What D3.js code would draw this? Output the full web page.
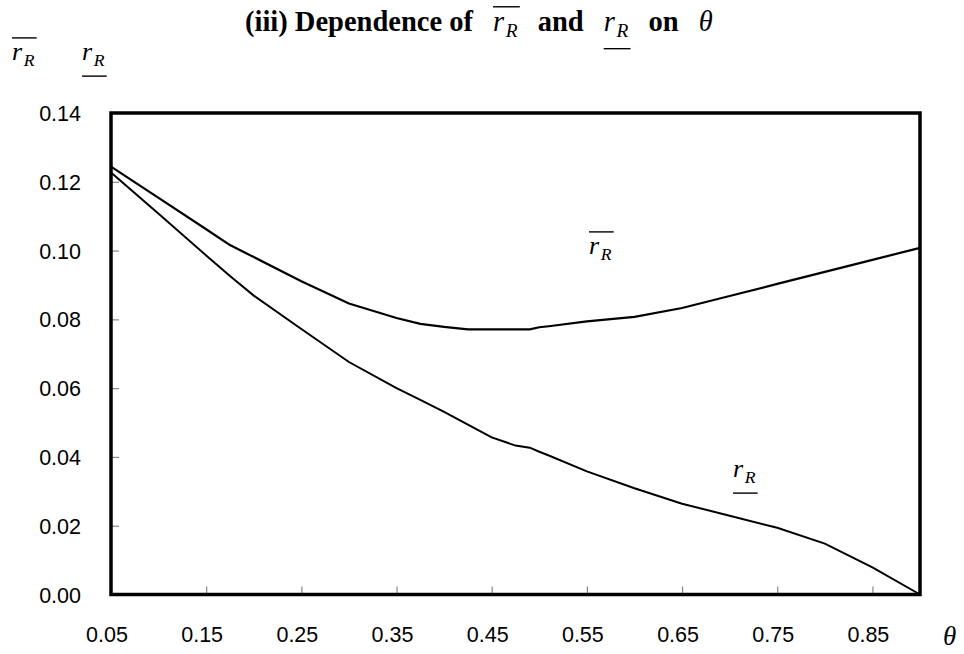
<!DOCTYPE html>
<html><head><meta charset="utf-8">
<script src="https://cdn.jsdelivr.net/npm/d3@7"></script>
<style>body{margin:0;background:#fff}svg{display:block}</style>
</head><body>
<svg id="c" width="964" height="654"></svg>
<script>
const thetas = [0.05,0.10,0.15,0.175,0.20,0.25,0.30,0.35,0.375,0.40,0.425,0.45,0.475,0.49,0.50,0.51,0.55,0.60,0.65,0.70,0.75,0.80,0.85,0.90];
const rUpper = [0.1244,0.1153,0.1062,0.1016,0.0981,0.0911,0.0846,0.0804,0.0787,0.0778,0.0771,0.0771,0.0771,0.0771,0.0777,0.0780,0.0794,0.0807,0.0833,0.0868,0.0903,0.0938,0.0973,0.1008];
const rLower = [0.1227,0.1107,0.0986,0.0926,0.0869,0.0772,0.0676,0.0600,0.0566,0.0531,0.0494,0.0457,0.0433,0.0427,0.0415,0.0404,0.0358,0.0309,0.0264,0.0229,0.0194,0.0148,0.0079,0.0000];
const xTicks = [0.05,0.15,0.25,0.35,0.45,0.55,0.65,0.75,0.85];
const yTicks = [0.00,0.02,0.04,0.06,0.08,0.10,0.12,0.14];

const svg = d3.select("#c");
const L=111,R=920,T=113,B=594.5;
const x = d3.scaleLinear().domain([0.05,0.90]).range([L,R]);
const y = d3.scaleLinear().domain([0,0.14]).range([B,T]);

// inward ticks
svg.append("g").attr("transform",`translate(0,${B})`)
  .call(d3.axisBottom(x).tickValues(xTicks.slice(1)).tickSize(-8).tickFormat(""))
  .call(g=>{g.select(".domain").remove();g.selectAll("line").attr("stroke","#888").attr("stroke-width",1.2);});
svg.append("g").attr("transform",`translate(${L},0)`)
  .call(d3.axisLeft(y).tickValues(yTicks.slice(1,-1)).tickSize(-8).tickFormat(""))
  .call(g=>{g.select(".domain").remove();g.selectAll("line").attr("stroke","#888").attr("stroke-width",1.2);});

// tick labels
const lab = {"font-family":"'Liberation Sans',Arial,sans-serif","font-size":"21.5px","fill":"#000"};
svg.append("g").selectAll("text").data(xTicks).join("text")
  .attr("x",d=>x(d)-4).attr("y",642).attr("text-anchor","middle")
  .text(d=>d3.format(".2f")(d)).each(function(){for(const k in lab)d3.select(this).style(k,lab[k]);});
svg.append("g").selectAll("text").data(yTicks).join("text")
  .attr("x",81).attr("y",d=>y(d)+8).attr("text-anchor","end")
  .text(d=>d3.format(".2f")(d)).each(function(){for(const k in lab)d3.select(this).style(k,lab[k]);});

// lines
const line = d3.line().x((d,i)=>x(thetas[i])).y(d=>y(d));
svg.append("path").attr("d",line(rUpper)).attr("fill","none").attr("stroke","#000").attr("stroke-width",2.2);
svg.append("path").attr("d",line(rLower)).attr("fill","none").attr("stroke","#000").attr("stroke-width",2);

// frame
svg.append("rect").attr("x",L).attr("y",T).attr("width",R-L).attr("height",B-T)
  .attr("fill","none").attr("stroke","#000").attr("stroke-width",3.5);

const tf = "'Liberation Serif','Times New Roman',serif";
// r_R symbol helper
function rSym(px, py, size, mode){
  const g = svg.append("g");
  const t = g.append("text").attr("x",px).attr("y",py)
    .style("font-family",tf).style("font-style","italic").style("font-size",size+"px");
  t.append("tspan").text("r");
  t.append("tspan").attr("dx",size*0.06).attr("dy",size*0.22).style("font-size",(size*0.68)+"px").text("R");
  const bb = t.node().getBBox();
  const yy = mode==="over" ? py-size*0.85 : py+size*0.62;
  g.append("line").attr("x1",bb.x).attr("x2",bb.x+bb.width+2).attr("y1",yy).attr("y2",yy)
    .attr("stroke","#000").attr("stroke-width",1.4);
  return bb;
}

// title
let cx = 245;
const TY = 31;
const TS = 28.5, GAP = 20;
function word(s, italic, size){
  const t = svg.append("text").attr("x",cx).attr("y",TY).style("font-family",tf)
    .style("font-weight","bold").style("font-size",(size||TS)+"px").text(s);
  if(italic) t.style("font-style","italic").style("font-weight","normal");
  cx += t.node().getComputedTextLength();
}
word("(iii) Dependence of");
cx += GAP;
let bb = rSym(cx, TY, TS, "over"); cx = bb.x+bb.width+GAP;
word("and"); cx += GAP;
bb = rSym(cx, TY, TS, "under"); cx = bb.x+bb.width+GAP;
word("on"); cx += GAP;
word("θ", true);

// corner labels
rSym(12, 60, 26, "over");
rSym(82, 60, 26, "under");

// curve labels
rSym(589, 254, 26, "over");
rSym(733, 477, 26, "under");

// axis label
svg.append("text").attr("x",943).attr("y",645).style("font-family",tf).style("font-style","italic")
  .style("font-size","27px").text("θ");
</script>
</body></html>
